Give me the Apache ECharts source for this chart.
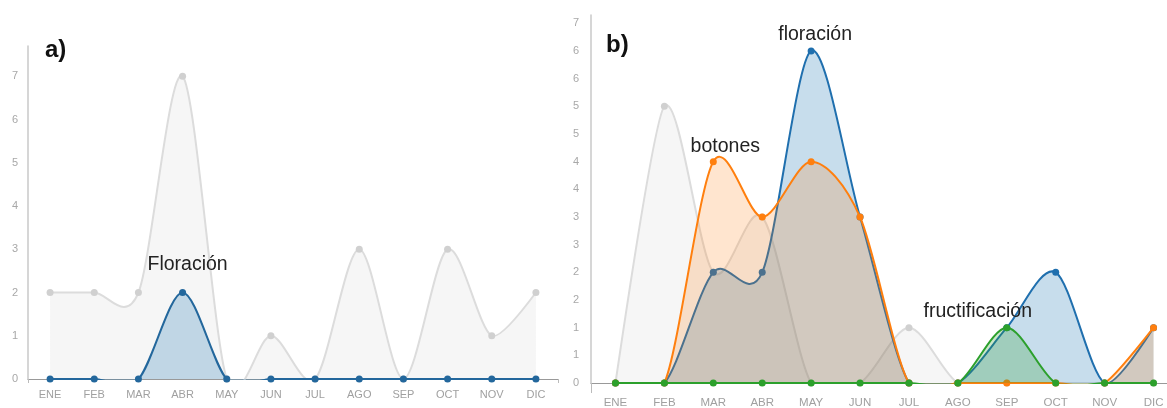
<!DOCTYPE html>
<html>
<head>
<meta charset="utf-8">
<script src="https://cdn.jsdelivr.net/npm/echarts@6/dist/echarts.min.js"></script>
<style>
  html, body { margin: 0; padding: 0; background: #fff; }
  #chart { width: 1167px; height: 408px; }
</style>
</head>
<body>
<div id="chart"></div>
<script>
// categorias (meses)
const meses = ['ENE', 'FEB', 'MAR', 'ABR', 'MAY', 'JUN', 'JUL', 'AGO', 'SEP', 'OCT', 'NOV', 'DIC'];

// a)
const grisA = [2, 2, 2, 7, 0, 1, 0, 3, 0, 3, 1, 2];
const floracionA = [0, 0, 0, 2, 0, 0, 0, 0, 0, 0, 0, 0];

// b)
const grisB = [0, 5, 2, 3, 0, 0, 1, 0, 0, 0, 0, 0];
const floracionB = [0, 0, 2, 2, 6, 3, 0, 0, 1, 2, 0, 1];
const botonesB = [0, 0, 4, 3, 4, 3, 0, 0, 0, 0, 0, 1];
const fructificacionB = [0, 0, 0, 0, 0, 0, 0, 0, 1, 0, 0, 0];

const FONT = 'Liberation Sans, Arial, sans-serif';

// curva cardinal (tension 0.7) a partir de los puntos ya convertidos por los ejes
function cardinal(p, tension) {
  const n = p.length;
  const a = (1 - tension) / 2;
  const T = p.map((q, i) => (i > 0 && i < n - 1)
    ? [a * (p[i + 1][0] - p[i - 1][0]), a * (p[i + 1][1] - p[i - 1][1])]
    : [0, 0]);
  let d = 'M' + p[0][0] + ',' + p[0][1];
  d += 'Q' + (p[1][0] - T[1][0] * 2 / 3) + ',' + (p[1][1] - T[1][1] * 2 / 3) + ',' + p[1][0] + ',' + p[1][1];
  for (let i = 2; i <= n - 2; i++) {
    d += 'C' + (p[i - 1][0] + T[i - 1][0]) + ',' + (p[i - 1][1] + T[i - 1][1]) + ','
      + (p[i][0] - T[i][0]) + ',' + (p[i][1] - T[i][1]) + ',' + p[i][0] + ',' + p[i][1];
  }
  d += 'Q' + (p[n - 2][0] + T[n - 2][0] * 2 / 3) + ',' + (p[n - 2][1] + T[n - 2][1] * 2 / 3) + ','
    + p[n - 1][0] + ',' + p[n - 1][1];
  return d;
}

function recorte(cs) {
  return { type: 'rect', shape: { x: cs.x, y: cs.y - 4, width: cs.width, height: cs.height + 5 } };
}

// serie de area suavizada; etiqueta opcional sobre un mes
function curva(name, values, color, fill, g, symColor, etiqueta) {
  const idxEtiqueta = etiqueta ? meses.indexOf(etiqueta.mes) : -1;
  return {
    name: name,
    type: 'custom',
    xAxisIndex: g,
    yAxisIndex: g,
    data: values.map((v, i) => [i, v]),
    silent: true,
    renderItem: function (params, api) {
      const i = params.dataIndex;
      const cs = params.coordSys;
      const pts = values.map((v, k) => api.coord([k, v]));
      const children = [];
      if (i === 0) {
        const d = cardinal(pts, 0.7);
        const base = api.coord([0, 0])[1];
        const last = pts[pts.length - 1];
        children.push({
          type: 'path',
          shape: { pathData: d + 'L' + last[0] + ',' + base + 'L' + pts[0][0] + ',' + base + 'Z' },
          style: { fill: fill },
          clipPath: recorte(cs)
        });
        children.push({
          type: 'path',
          shape: { pathData: d },
          style: { fill: null, stroke: color, lineWidth: 2 },
          clipPath: recorte(cs)
        });
      }
      children.push({
        type: 'circle',
        shape: { cx: pts[i][0], cy: pts[i][1], r: 3.5 },
        style: { fill: symColor || color }
      });
      if (i === idxEtiqueta) {
        children.push({
          type: 'text',
          x: pts[i][0] + etiqueta.offset[0],
          y: pts[i][1] + etiqueta.offset[1],
          z2: 100,
          style: {
            text: etiqueta.texto,
            fill: '#222',
            fontSize: 19.5,
            fontFamily: FONT,
            align: 'center',
            verticalAlign: 'middle'
          }
        });
      }
      return { type: 'group', children: children };
    }
  };
}

const xAxisBase = {
  type: 'category',
  data: meses,
  boundaryGap: true,
  axisLine: { lineStyle: { color: '#999', width: 1 } },
  splitLine: { show: false },
  axisLabel: { color: '#a0a0a0', fontSize: 11, fontFamily: FONT }
};

const chart = echarts.init(document.getElementById('chart'));
chart.setOption({
  animation: false,
  backgroundColor: '#fff',
  title: [
    { text: 'a)', left: 45, top: 38, padding: 0, textStyle: { fontSize: 24, fontWeight: 'bold', color: '#111', fontFamily: FONT } },
    { text: 'b)', left: 606, top: 33, padding: 0, textStyle: { fontSize: 24, fontWeight: 'bold', color: '#111', fontFamily: FONT } }
  ],
  grid: [
    { left: 28, top: 46, width: 530, height: 333, outerBoundsMode: 'none' },
    { left: 591, top: 15, width: 587, height: 368, outerBoundsMode: 'none' }
  ],
  xAxis: [
    Object.assign({}, xAxisBase, {
      gridIndex: 0,
      axisTick: { show: true, length: 4, interval: (i) => i === 0, lineStyle: { color: '#bbb' } },
      axisLabel: Object.assign({}, xAxisBase.axisLabel, { margin: 10 })
    }),
    Object.assign({}, xAxisBase, {
      gridIndex: 1,
      axisTick: { show: true, length: 10, interval: (i) => i === 0, lineStyle: { color: '#bbb' } },
      axisLabel: Object.assign({}, xAxisBase.axisLabel, { margin: 14, fontSize: 11.5 })
    })
  ],
  yAxis: [
    {
      gridIndex: 0, type: 'value', min: 0, max: 7.7, interval: 1,
      axisLine: { show: true, lineStyle: { color: '#c8c8c8', width: 1.5 } },
      axisTick: { show: false },
      splitLine: { show: false },
      axisLabel: { color: '#a8a8a8', fontSize: 11, fontFamily: FONT, margin: 10, showMaxLabel: false }
    },
    {
      gridIndex: 1, type: 'value', min: 0, max: 6.65, interval: 0.5,
      axisLine: { show: true, lineStyle: { color: '#c8c8c8', width: 1.5 } },
      axisTick: { show: false },
      splitLine: { show: false },
      axisLabel: {
        color: '#a8a8a8', fontSize: 11, fontFamily: FONT, margin: 12, showMaxLabel: false,
        formatter: (v) => String(Math.round(v))
      }
    }
  ],
  series: [
    curva('gris a', grisA, '#dcdcdc', 'rgba(215,215,215,0.22)', 0, '#d0d0d0'),
    curva('Floración', floracionA, '#23679c', 'rgba(31,119,180,0.25)', 0, null,
      { mes: 'ABR', texto: 'Floración', offset: [5, -28] }),

    curva('gris b', grisB, '#dcdcdc', 'rgba(215,215,215,0.22)', 1, '#d0d0d0'),
    curva('floración', floracionB, '#1f6fae', 'rgba(31,119,180,0.25)', 1, null,
      { mes: 'MAY', texto: 'floración', offset: [4, -16] }),
    curva('botones', botonesB, '#ff7f0e', 'rgba(255,127,14,0.2)', 1, null,
      { mes: 'MAR', texto: 'botones', offset: [12, -15] }),
    curva('fructificación', fructificacionB, '#2ca02c', 'rgba(44,160,44,0.25)', 1, null,
      { mes: 'SEP', texto: 'fructificación', offset: [-29, -16] })
  ]
});
</script>
</body>
</html>
